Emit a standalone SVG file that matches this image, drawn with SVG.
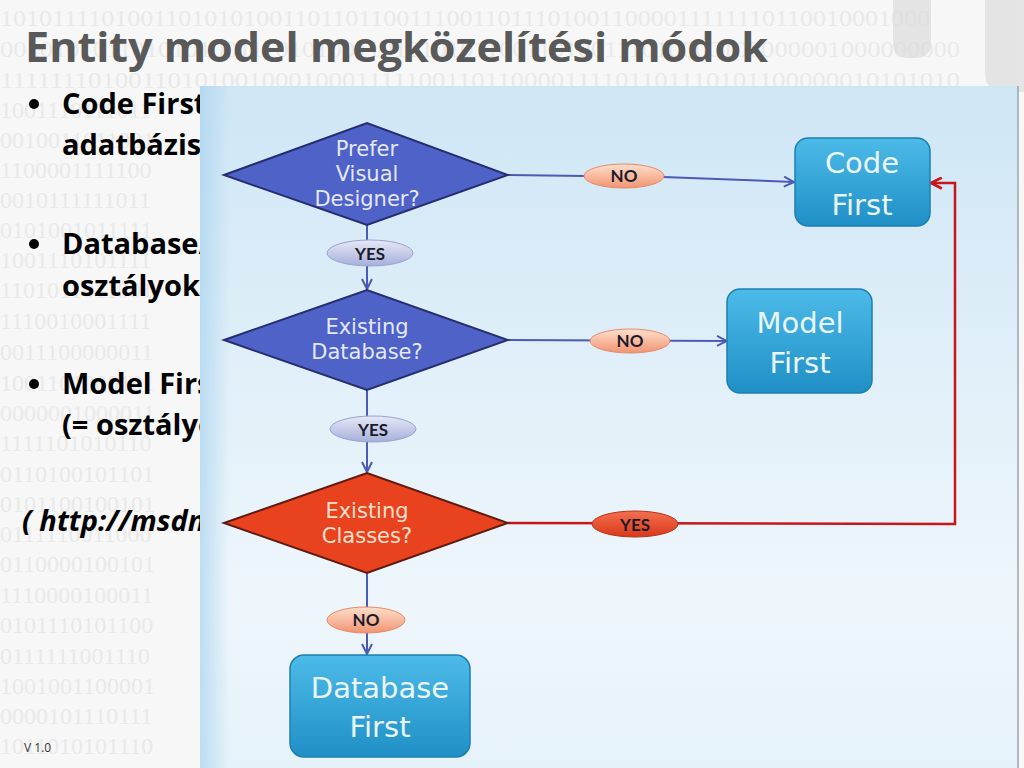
<svg xmlns="http://www.w3.org/2000/svg" width="1024" height="768" viewBox="0 0 1024 768">
<defs>
<style>
.bin{font-family:"Liberation Serif",serif;font-size:24px;fill:#e9e9e9}
.bul{font-family:"Open Sans",sans-serif;font-weight:bold;font-size:29px;fill:#000}
.dt{font-family:"DejaVu Sans",sans-serif;font-size:21px;text-anchor:middle}
.bt{font-family:"DejaVu Sans",sans-serif;font-size:29px;fill:#eaf6fc;text-anchor:middle}
.pl{font-family:"Lato","Open Sans",sans-serif;font-weight:bold;font-size:17px;fill:#1a1a2a;text-anchor:middle}
.blue{stroke:#4b5bb5;stroke-width:2;fill:none}
.red{stroke:#c8161d;stroke-width:2.5;fill:none}
.box{fill:url(#boxg);stroke:#1c7fb0;stroke-width:1.5}
</style>
<linearGradient id="panel" x1="0" y1="0" x2="0" y2="1">
<stop offset="0" stop-color="#cfe6f5"/>
<stop offset="0.45" stop-color="#e2f0f9"/>
<stop offset="0.75" stop-color="#eef6fb"/>
<stop offset="1" stop-color="#e6f2fa"/>
</linearGradient>
<linearGradient id="panelL" x1="0" y1="0" x2="1" y2="0">
<stop offset="0" stop-color="#a9d3ef" stop-opacity="0.7"/>
<stop offset="1" stop-color="#a9d3ef" stop-opacity="0"/>
</linearGradient>
<linearGradient id="boxg" x1="0" y1="0" x2="0" y2="1">
<stop offset="0" stop-color="#4dbbe8"/>
<stop offset="1" stop-color="#1f8fc6"/>
</linearGradient>
<linearGradient id="salmon" x1="0" y1="0" x2="0" y2="1">
<stop offset="0" stop-color="#fde0cc"/>
<stop offset="1" stop-color="#f29472"/>
</linearGradient>
<linearGradient id="lav" x1="0" y1="0" x2="0" y2="1">
<stop offset="0" stop-color="#e6e9f7"/>
<stop offset="1" stop-color="#a6afda"/>
</linearGradient>
<linearGradient id="redp" x1="0" y1="0" x2="0" y2="1">
<stop offset="0" stop-color="#f4704e"/>
<stop offset="1" stop-color="#d9381a"/>
</linearGradient>
<marker id="ab" viewBox="0 0 12 12" refX="11" refY="6" markerWidth="12" markerHeight="12" markerUnits="userSpaceOnUse" orient="auto">
<path d="M1,1 L11,6 L1,11" fill="none" stroke="#4b5bb5" stroke-width="2"/>
</marker>
<marker id="ar" viewBox="0 0 12 12" refX="11" refY="6" markerWidth="13" markerHeight="13" markerUnits="userSpaceOnUse" orient="auto">
<path d="M1,1 L11,6 L1,11" fill="none" stroke="#c8161d" stroke-width="2.5"/>
</marker>
</defs>

<rect width="1024" height="768" fill="#f7f7f7"/>
<g id="binary">
<text class="bin" x="0" y="26" textLength="930" lengthAdjust="spacingAndGlyphs">1010111101001101010100110110110011100110111010011000011111110110010001000</text>
<text class="bin" x="0" y="57" textLength="960" lengthAdjust="spacingAndGlyphs">0010101011010101001110101001101010101100110100111010000100000001000000000</text>
<text class="bin" x="0" y="88" textLength="960" lengthAdjust="spacingAndGlyphs">1111111010011010100100010001111100110110000111101101110101100000010101010</text>
<text class="bin" x="0" y="118">1001110111011</text>
<text class="bin" x="0" y="148">0010011011001</text>
<text class="bin" x="0" y="178">1100001111100</text>
<text class="bin" x="0" y="208">0010111111011</text>
<text class="bin" x="0" y="238">0101001011111</text>
<text class="bin" x="0" y="268">1001110101111</text>
<text class="bin" x="0" y="298">1101011011001</text>
<text class="bin" x="0" y="329">1110010001111</text>
<text class="bin" x="0" y="360">0011100000011</text>
<text class="bin" x="0" y="391">1001101000101</text>
<text class="bin" x="0" y="421">0000001000011</text>
<text class="bin" x="0" y="451">1111101010110</text>
<text class="bin" x="0" y="482">0110100101101</text>
<text class="bin" x="0" y="512">0101100100101</text>
<text class="bin" x="0" y="542">0111110011000</text>
<text class="bin" x="0" y="572">0110000100101</text>
<text class="bin" x="0" y="603">1110000100011</text>
<text class="bin" x="0" y="633">0101110101100</text>
<text class="bin" x="0" y="664">0111111001110</text>
<text class="bin" x="0" y="694">1001001100001</text>
<text class="bin" x="0" y="724">0000101110111</text>
<text class="bin" x="0" y="754">1011010101110</text>
</g>
<g id="corner" fill="#d9d9d9" opacity="0.6">
<rect x="893" y="-20" width="38" height="78" rx="14"/>
<path d="M985,0 H1024 V92 H1004 Q985,92 985,72 Z"/>
</g>

<text id="title" x="25" y="62" font-family="'Open Sans',sans-serif" font-weight="bold" font-size="41" fill="#595959" textLength="743" lengthAdjust="spacingAndGlyphs">Entity model megközelítési módok</text>

<g id="bullets">
<circle cx="34" cy="104" r="5" fill="#000"/>
<text class="bul" x="62" y="114">Code First</text>
<text class="bul" x="62" y="155">adatbázist</text>
<circle cx="34" cy="244" r="5" fill="#000"/>
<text class="bul" x="62" y="254">Database/</text>
<text class="bul" x="62" y="296">osztályoka</text>
<circle cx="34" cy="384" r="5" fill="#000"/>
<text class="bul" x="62" y="394">Model First</text>
<text class="bul" x="62" y="435">(= osztályo</text>
<text class="bul" x="22" y="531" font-style="italic">( http://msdn</text>
</g>
<text id="version" x="24" y="752" font-family="'Open Sans',sans-serif" font-size="12" fill="#333">V 1.0</text>

<g id="panel">
<rect x="200" y="86" width="818" height="682" fill="url(#panel)"/>
<rect x="200" y="86" width="30" height="682" fill="url(#panelL)"/>
<line x1="1018" y1="86" x2="1018" y2="768" stroke="#9aa6ae" stroke-width="1.5"/>
</g>

<g id="connectors">
<line class="blue" x1="367" y1="225" x2="367" y2="289" marker-end="url(#ab)"/>
<line class="blue" x1="367" y1="390" x2="367" y2="472" marker-end="url(#ab)"/>
<line class="blue" x1="367" y1="573" x2="367" y2="654" marker-end="url(#ab)"/>
<path class="blue" d="M508,175 L585,176 M663,177 L794,182" marker-end="url(#ab)"/>
<path class="blue" d="M508,340 L727,341" marker-end="url(#ab)"/>
<path class="red" d="M508,523 L955,524 L955,183 L931,183" marker-end="url(#ar)"/>
</g>

<g id="d1">
<polygon points="224,175 367,123 508,175 367,225" fill="#4e62c8" stroke="#262d6e" stroke-width="2"/>
<text class="dt" fill="#e4e8f8"><tspan x="367" y="156">Prefer</tspan><tspan x="367" y="181">Visual</tspan><tspan x="367" y="206">Designer?</tspan></text>
</g>
<g id="d2">
<polygon points="224,340 367,290 508,340 367,390" fill="#4e62c8" stroke="#262d6e" stroke-width="2"/>
<text class="dt" fill="#e4e8f8"><tspan x="367" y="334">Existing</tspan><tspan x="367" y="359">Database?</tspan></text>
</g>
<g id="d3">
<polygon points="224,523 367,473 508,523 367,573" fill="#e8421f" stroke="#5e1a10" stroke-width="2"/>
<text class="dt" fill="#fbe0cc"><tspan x="367" y="518">Existing</tspan><tspan x="367" y="543">Classes?</tspan></text>
</g>

<g id="yes1"><ellipse cx="370" cy="253" rx="43" ry="13" fill="url(#lav)" stroke="#9aa2cf"/><text class="pl" x="370" y="260">YES</text></g>
<g id="yes2"><ellipse cx="373" cy="429" rx="43" ry="13" fill="url(#lav)" stroke="#9aa2cf"/><text class="pl" x="373" y="436">YES</text></g>
<g id="no3"><ellipse cx="366" cy="620" rx="39" ry="13" fill="url(#salmon)" stroke="#e58a6a"/><text class="pl" x="366" y="626" font-size="15">NO</text></g>
<g id="no1"><ellipse cx="624" cy="176" rx="40" ry="12" fill="url(#salmon)" stroke="#e58a6a"/><text class="pl" x="624" y="182" font-size="15">NO</text></g>
<g id="no2"><ellipse cx="630" cy="341" rx="40" ry="12" fill="url(#salmon)" stroke="#e58a6a"/><text class="pl" x="630" y="347" font-size="15">NO</text></g>
<g id="yes3"><ellipse cx="635" cy="524" rx="43" ry="13" fill="url(#redp)" stroke="#b8301a"/><text class="pl" x="635" y="531">YES</text></g>

<g id="codefirst">
<rect class="box" x="795" y="138" width="135" height="88" rx="13"/>
<text class="bt" x="862" y="173">Code</text>
<text class="bt" x="862" y="215">First</text>
</g>
<g id="modelfirst">
<rect class="box" x="727" y="289" width="145" height="104" rx="13"/>
<text class="bt" x="800" y="333">Model</text>
<text class="bt" x="800" y="373">First</text>
</g>
<g id="dbfirst">
<rect class="box" x="290" y="655" width="180" height="102" rx="14"/>
<text class="bt" x="380" y="698">Database</text>
<text class="bt" x="380" y="737">First</text>
</g>
</svg>
